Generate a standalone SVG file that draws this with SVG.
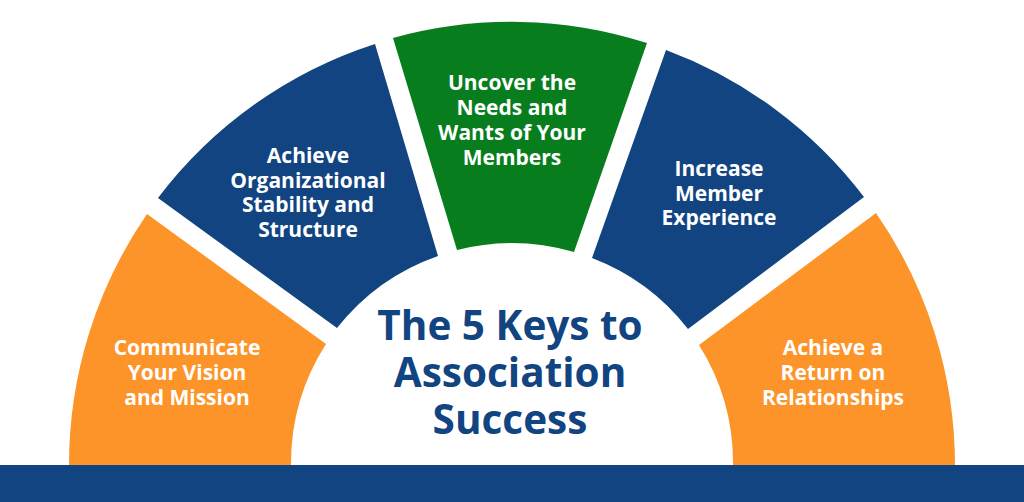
<svg xmlns="http://www.w3.org/2000/svg" width="1024" height="502" viewBox="0 0 1024 502">
  <style>
    .orange { fill: #FD9429; }
    .blue { fill: #114480; }
    .green { fill: #077D1E; }
    .lbl { font-family: "Open Sans", "Liberation Sans", sans-serif; font-weight: 700; font-size: 21px; fill: #FFFFFF; text-anchor: middle; }
    .title { font-family: "Open Sans", "Liberation Sans", sans-serif; font-weight: 700; font-size: 40.5px; fill: #114480; text-anchor: middle; }
  </style>
  <rect width="1024" height="502" fill="#FFFFFF"/>
  <g id="seg1">
    <path class="orange" d="M 69,466 A 443 443 0 0 1 147,214 L 326,344 A 222 222 0 0 0 291,466 Z"/>
    <text class="lbl" x="187" y="355">Communicate</text>
    <text class="lbl" x="187" y="380">Your Vision</text>
    <text class="lbl" x="187" y="405">and Mission</text>
  </g>
  <g id="seg2">
    <path class="blue" d="M 158,198 A 443 443 0 0 1 375,44 L 438,256 A 222 222 0 0 0 337,328 Z"/>
    <text class="lbl" x="308" y="163">Achieve</text>
    <text class="lbl" x="308" y="188">Organizational</text>
    <text class="lbl" x="308" y="212">Stability and</text>
    <text class="lbl" x="308" y="237">Structure</text>
  </g>
  <g id="seg3">
    <path class="green" d="M 393,38 A 443 443 0 0 1 647,43 L 574,252 A 222 222 0 0 0 457,250 Z"/>
    <text class="lbl" x="512" y="90">Uncover the</text>
    <text class="lbl" x="512" y="115">Needs and</text>
    <text class="lbl" x="512" y="140">Wants of Your</text>
    <text class="lbl" x="512" y="165">Members</text>
  </g>
  <g id="seg4">
    <path class="blue" d="M 666,50 A 443 443 0 0 1 864,197 L 688,329 A 222 222 0 0 0 592,258 Z"/>
    <text class="lbl" x="719" y="176">Increase</text>
    <text class="lbl" x="719" y="201">Member</text>
    <text class="lbl" x="719" y="225">Experience</text>
  </g>
  <g id="seg5">
    <path class="orange" d="M 876,213 A 443 443 0 0 1 955,466 L 733,466 A 222 222 0 0 0 699,345 Z"/>
    <text class="lbl" x="833" y="355">Achieve a</text>
    <text class="lbl" x="833" y="380">Return on</text>
    <text class="lbl" x="833" y="405">Relationships</text>
  </g>
  <g id="center">
    <text class="title" x="510" y="340">The 5 Keys to</text>
    <text class="title" x="510" y="387">Association</text>
    <text class="title" x="510" y="434">Success</text>
  </g>
  <g id="connectors"></g>
  <rect id="bar" class="blue" x="0" y="465" width="1024" height="37"/>
</svg>
